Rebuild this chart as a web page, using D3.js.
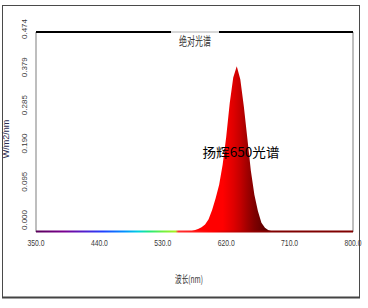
<!DOCTYPE html>
<html>
<head>
<meta charset="utf-8">
<script src="https://cdn.jsdelivr.net/npm/d3@7/dist/d3.min.js"></script>
<style>
  html, body { margin: 0; padding: 0; background: #fff; }
  svg { display: block; }
</style>
</head>
<body>
<svg id="chart" width="368" height="308"></svg>
<script>
// spectrum samples (nm, W/m2/nm)
var wavelengths = [545, 550, 555, 560, 565, 570, 575, 580, 585, 590, 595, 600, 605, 610, 615,
    620, 625, 630, 635, 640, 645, 650, 655, 660, 665, 670, 675, 680, 685, 690, 695];
var irradiance = [0.000, 0.000, 0.000, 0.001, 0.001, 0.002, 0.004, 0.007, 0.011, 0.018, 0.030, 0.052, 0.080, 0.112, 0.160,
    0.225, 0.305, 0.366, 0.393, 0.362, 0.298, 0.222, 0.145, 0.088, 0.050, 0.022, 0.010, 0.004, 0.002, 0.001, 0.000];

var xTicks = [350, 440, 530, 620, 710, 800];
var yTicks = [0.000, 0.095, 0.190, 0.285, 0.379, 0.474];

var chartTitle = "绝对光谱";
var seriesName = "扬辉650光谱";
var xTitle = "波长(nm)";
var yTitle = "W/m2/nm";

var svg = d3.select("#chart");
var plotLeft = 36, plotRight = 353, plotTop = 32, plotBottom = 232;

var x = d3.scaleLinear().domain([350, 800]).range([plotLeft, plotRight]);
var y = d3.scaleLinear().domain([0, 0.474]).range([plotBottom, plotTop]);
// rotated tick labels sit a bit above their tick
var yLab = d3.scaleLinear().domain([0, 0.474]).range([220, 29]);

// outer frame
svg.append("rect")
    .attr("x", 2.5).attr("y", 5.5)
    .attr("width", 357).attr("height", 292)
    .attr("fill", "none")
    .attr("stroke", "#4a4a4a")
    .attr("stroke-width", 1);
svg.append("line")
    .attr("x1", 2).attr("x2", 360)
    .attr("y1", 297.5).attr("y2", 297.5)
    .attr("stroke", "#444").attr("stroke-width", 2);

var defs = svg.append("defs");

// fill colour of the spectrum, darker towards the deep red
var fillGrad = defs.append("linearGradient")
    .attr("id", "fillGrad")
    .attr("gradientUnits", "userSpaceOnUse")
    .attr("x1", x(560)).attr("x2", x(690))
    .attr("y1", 0).attr("y2", 0);
var fillStops = [[560, "#ff0000"], [615, "#ff0000"], [630, "#e00000"], [640, "#c40000"], [650, "#a00000"], [660, "#800000"], [675, "#5c0000"], [690, "#500000"]];
fillGrad.selectAll("stop")
    .data(fillStops)
    .enter()
    .append("stop")
    .attr("offset", function (d) { return (d[0] - 560) / (690 - 560); })
    .attr("stop-color", function (d) { return d[1]; });

// visible spectrum along the baseline
var baseGrad = defs.append("linearGradient")
    .attr("id", "baseGrad")
    .attr("gradientUnits", "userSpaceOnUse")
    .attr("x1", x(350)).attr("x2", x(800))
    .attr("y1", 0).attr("y2", 0);
var baseStops = [[350, "#5a005a"], [390, "#7a0090"], [420, "#5020d0"], [445, "#2040ff"], [475, "#0090ff"], [495, "#00d0e0"], [510, "#20e880"], [530, "#70f040"], [548, "#a8f020"], [552, "#ff3030"], [600, "#ff0000"], [660, "#900000"], [690, "#800000"], [800, "#800000"]];
baseGrad.selectAll("stop")
    .data(baseStops)
    .enter()
    .append("stop")
    .attr("offset", function (d) { return (d[0] - 350) / 450; })
    .attr("stop-color", function (d) { return d[1]; });

// plot borders
svg.append("line")
    .attr("x1", plotLeft).attr("x2", plotLeft)
    .attr("y1", plotTop).attr("y2", plotBottom)
    .attr("stroke", "#a8a8a8").attr("stroke-width", 1.5);
svg.append("line")
    .attr("x1", plotRight).attr("x2", plotRight)
    .attr("y1", plotTop).attr("y2", plotBottom)
    .attr("stroke", "#a8a8a8").attr("stroke-width", 1.5);
svg.append("line")
    .attr("x1", plotLeft).attr("x2", plotRight)
    .attr("y1", plotTop).attr("y2", plotTop)
    .attr("stroke", "#000").attr("stroke-width", 1.8);

var data = wavelengths.map(function (w, i) { return { w: w, v: irradiance[i] }; });

var area = d3.area()
    .x(function (d) { return x(d.w); })
    .y0(plotBottom)
    .y1(function (d) { return y(d.v); })
    .curve(d3.curveLinear);

svg.append("path")
    .datum(data)
    .attr("d", area)
    .attr("fill", "url(#fillGrad)");

// spectrum-coloured baseline
svg.append("rect")
    .attr("x", plotLeft).attr("y", plotBottom - 1.5)
    .attr("width", plotRight - plotLeft).attr("height", 2)
    .attr("fill", "url(#baseGrad)");

// chart title with its white box over the top border
var title = svg.append("text")
    .attr("x", (plotLeft + plotRight) / 2 + 0.5)
    .attr("y", 46)
    .attr("text-anchor", "middle")
    .attr("font-family", "'Noto Sans CJK SC', sans-serif")
    .attr("font-size", 12)
    .attr("textLength", 32)
    .attr("lengthAdjust", "spacingAndGlyphs")
    .attr("fill", "#333")
    .text(chartTitle);
var tb = title.node().getBBox();
svg.insert("rect", "text")
    .attr("x", tb.x - 8).attr("y", plotTop - 1.5)
    .attr("width", tb.width + 16).attr("height", 3)
    .attr("fill", "#fff");
svg.insert("line", "text")
    .attr("x1", tb.x - 8).attr("x2", tb.x + tb.width + 8)
    .attr("y1", plotTop).attr("y2", plotTop)
    .attr("stroke", "#b0b0b0").attr("stroke-width", 1);

// x tick labels
svg.append("g")
    .selectAll("text")
    .data(xTicks)
    .enter()
    .append("text")
    .attr("x", function (d) { return x(d); })
    .attr("y", 246)
    .attr("text-anchor", "middle")
    .attr("font-family", "'Liberation Sans Narrow', 'Liberation Sans', sans-serif")
    .attr("font-size", 9)
    .attr("textLength", 17)
    .attr("lengthAdjust", "spacingAndGlyphs")
    .attr("fill", "#3a3a3a")
    .text(function (d) { return d3.format(".1f")(d); });

// y tick labels, rotated
svg.append("g")
    .selectAll("text")
    .data(yTicks)
    .enter()
    .append("text")
    .attr("transform", function (d) { return "translate(27," + yLab(d) + ") rotate(-90)"; })
    .attr("text-anchor", "middle")
    .attr("font-family", "'Liberation Sans', sans-serif")
    .attr("font-size", 8)
    .attr("fill", "#3a3a3a")
    .text(function (d) { return d3.format(".3f")(d); });

// axis titles
svg.append("text")
    .attr("transform", "translate(9,139) rotate(-90)")
    .attr("text-anchor", "middle")
    .attr("font-family", "'Liberation Sans', sans-serif")
    .attr("font-size", 9)
    .attr("fill", "#2a2a50")
    .text(yTitle);

svg.append("text")
    .attr("x", 189)
    .attr("y", 283)
    .attr("text-anchor", "middle")
    .attr("font-family", "'Noto Sans CJK SC', sans-serif")
    .attr("font-size", 10)
    .attr("textLength", 28)
    .attr("lengthAdjust", "spacingAndGlyphs")
    .attr("fill", "#333")
    .text(xTitle);

// series label over the peak
svg.append("text")
    .attr("x", 241)
    .attr("y", 157)
    .attr("text-anchor", "middle")
    .attr("font-family", "'Noto Sans CJK SC', sans-serif")
    .attr("font-size", 13)
    .attr("textLength", 77)
    .attr("lengthAdjust", "spacingAndGlyphs")
    .attr("fill", "#000")
    .text(seriesName);
</script>
</body>
</html>
